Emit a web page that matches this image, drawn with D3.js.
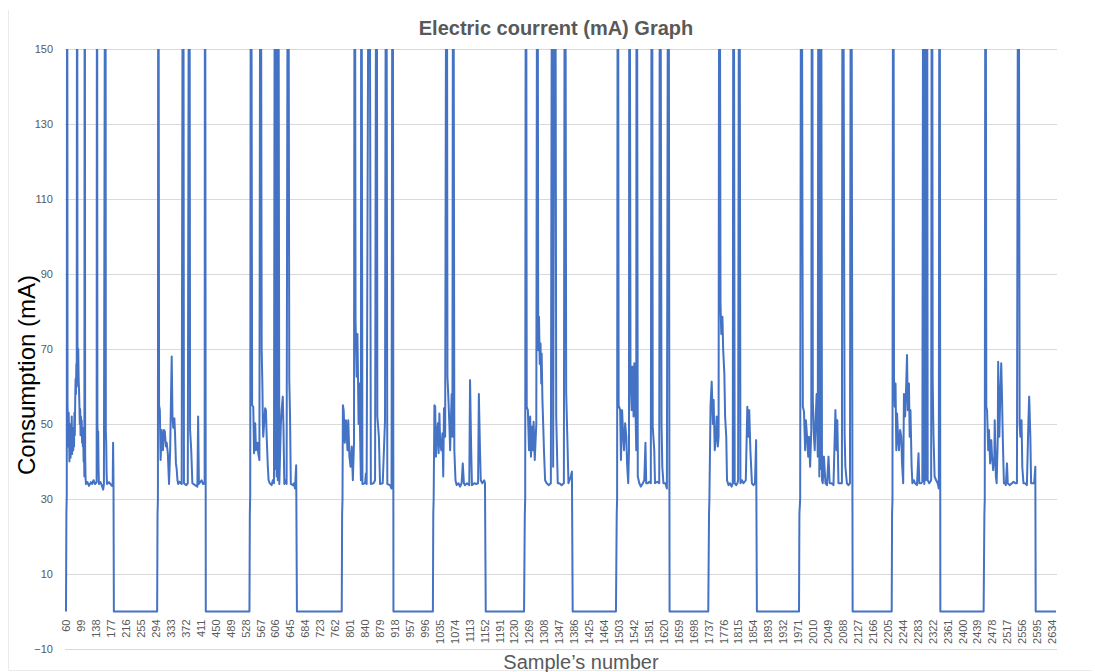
<!DOCTYPE html>
<html><head><meta charset="utf-8">
<script src="https://cdn.jsdelivr.net/npm/d3@7"></script>
<style>body{margin:0;background:#fff} svg{display:block}</style>
</head><body>
<svg id="chart" width="1095" height="672"></svg>
<script>
const chartTitle = "Electric courrent (mA) Graph";
const yAxisTitle = "Consumption (mA)";
const xAxisTitle = "Sample\u2019s number";
const yTicks = [-10, 10, 30, 50, 70, 90, 110, 130, 150];
const xTickLabels = [60,99,138,177,216,255,294,333,372,411,450,489,528,567,606,645,684,723,762,801,840,879,918,957,996,1035,1074,1113,1152,1191,1230,1269,1308,1347,1386,1425,1464,1503,1542,1581,1620,1659,1698,1737,1776,1815,1854,1893,1932,1971,2010,2049,2088,2127,2166,2205,2244,2283,2322,2361,2400,2439,2478,2517,2556,2595,2634];
const lastSample = 2645;
// [sample number, current mA]; values above 150 run off the top of the plot
const cycle1 = [[60,0],[61,26],[62,31],[63,250],[64,55],[65,52],[66,44],[67,53],[68,47],[69,40],[70,50],[71,45],[72,41],[73,48],[74,43],[75,52],[76,42],[77,48],[78,45],[79,43],[80,49],[81,44],[82,53],[83,47],[84,56],[85,62],[86,58],[87,66],[88,60],[89,250],[90,70],[91,65],[92,70],[93,62],[94,59],[95,55],[96,50],[97,54],[98,47],[99,52],[100,48],[101,51],[102,45],[103,49],[104,44],[105,47],[106,40],[107,44],[108,36],[109,250],[110,42],[111,36],[112,34],[116,34.5],[120,33.5],[125,34.5],[128,34],[132,35],[136,34],[140,34.5],[141,250],[142,50],[143,46],[144,48],[145,38],[146,34],[150,34.5],[154,33.5],[157,32.5],[159,34],[163,250],[164,48],[165,45],[166,37],[167,34],[172,34.5],[176,34],[180,33.5],[182,34],[183,45],[184,35],[185,0]];
const cycle2 = [[298,0],[299,26],[300,30],[301,250],[303,55],[305,53.7],[307,40.4],[310,48.4],[313,43],[316,48.4],[318,48],[321,44],[323,45],[326,42],[329,34],[332,43],[334,56],[336,68],[338,52],[340,49],[343,51.5],[345,46.6],[347,39.5],[349,38],[351,35],[353,34],[356,34.6],[362,34],[366,250],[368,34.2],[374,33.7],[378,34.2],[382,250],[384,48.4],[387,43],[390,34.2],[397,33.7],[403,33.3],[405,52],[407,34],[414,35],[418,34],[422,34.2],[423,250],[425,0]];
const cycle3 = [[539,0],[540,26],[541,31],[543,250],[546,55],[549,54.6],[551,42.2],[554,50.2],[556,43],[560,45],[562,42.2],[565,40.4],[568,250],[571,69.7],[573,59],[574,50],[575,46.6],[580,54.2],[582,53.7],[584,46.6],[587,38.6],[589,35],[592,34.2],[597,33.7],[600,35],[603,34.2],[606,250],[607,38],[609,250],[610,36],[612,250],[613,35],[614,250],[617,34],[621,50],[623,53.7],[626,57.3],[628,48.4],[630,34],[633,35],[636,34],[640,250],[643,61.7],[645,52],[647,34],[652,33.7],[655,34.2],[658,32.8],[661,39],[663,0]];
const cycle4 = [[780,0],[781,26],[782,30],[783,55],[785,53.7],[788,45],[791,51],[795,43],[797,51],[800,41.3],[803,38.6],[806,44],[809,35],[812,45],[814,250],[816,77.7],[819,62.6],[821,74],[823,58],[824,50],[826,60.8],[828,46.6],[830,35],[831,250],[834,34],[841,34.2],[843,36.8],[845,34],[852,250],[856,34],[863,34.2],[867,35],[871,250],[873,52],[877,46.6],[880,34],[887,34.2],[893,51],[896,250],[899,34],[906,33.7],[910,32.8],[913,250],[915,0]];
const cycle5 = [[1018,0],[1019,26],[1020,30],[1022,55],[1024,54.6],[1026,41.3],[1028,46.6],[1031,50.2],[1033,42.2],[1035,52.8],[1037,45],[1040,43],[1043,47.5],[1045,36],[1047,54.2],[1050,46.6],[1054,250],[1056,62.6],[1058,58],[1061,50],[1063,43],[1067,58],[1069,46.6],[1071,250],[1074,43],[1077,35],[1080,33.7],[1085,34.2],[1089,33.3],[1093,34.2],[1096,39.5],[1099,34.2],[1102,33.7],[1107,34.2],[1113,33.7],[1115,61.7],[1118,43],[1120,33.7],[1126,34.2],[1131,34],[1136,34.2],[1138,58],[1141,43],[1143,35],[1147,34.2],[1152,35],[1154,34.2],[1156,0]];
const cycle6 = [[1256,0],[1258,26],[1259,30],[1261,250],[1263,54.6],[1266,53.7],[1269,43],[1272,52],[1274,41.3],[1277,49.3],[1279,43],[1281,50.6],[1284,40.4],[1288,50],[1291,250],[1293,69.7],[1295,78.6],[1297,66],[1299,71.5],[1301,60.8],[1302,68.8],[1304,56.4],[1306,50],[1308,43],[1311,35],[1315,34.2],[1321,33.7],[1326,34.2],[1330,250],[1332,38.6],[1337,250],[1340,52],[1344,34.2],[1348,34.2],[1354,33.7],[1360,34.2],[1363,250],[1366,58.6],[1369,46.6],[1372,34.2],[1378,36],[1381,37.3],[1383,0]];
const cycle7 = [[1496,0],[1498,26],[1499,30],[1501,250],[1503,55],[1507,53.7],[1509,40.4],[1512,53.7],[1515,46.6],[1517,43],[1520,50.2],[1523,46.6],[1525,39.5],[1528,34.2],[1530,43],[1531,250],[1534,61.7],[1537,53.7],[1539,65.3],[1542,52],[1544,66.2],[1547,53.7],[1549,43],[1550,250],[1553,36],[1557,34.2],[1561,33.3],[1566,34.2],[1570,35],[1573,45],[1575,34.2],[1579,34.2],[1583,34.6],[1587,34.2],[1590,250],[1592,49.3],[1596,43],[1598,34.2],[1604,34.6],[1609,34.2],[1611,250],[1615,50],[1617,38.6],[1620,34.2],[1625,34.2],[1629,32.8],[1633,250],[1636,0]];
const cycle8 = [[1737,0],[1739,26],[1740,30],[1743,55],[1746,61.3],[1749,50],[1751,56.4],[1754,43],[1757,46.6],[1759,52],[1762,44],[1764,46.6],[1766,250],[1769,82.2],[1771,74],[1774,78.6],[1776,69.7],[1779,63.5],[1781,52],[1784,46.6],[1786,35],[1790,33.7],[1794,34.2],[1798,33.3],[1801,34.2],[1803,250],[1806,34.2],[1810,33.7],[1813,34.2],[1815,35],[1818,250],[1821,34.2],[1825,35],[1829,34.2],[1835,35],[1839,54.6],[1842,46.6],[1844,53.7],[1847,43],[1851,34.2],[1855,33.7],[1859,34.2],[1862,45.7],[1864,0]];
const cycle9 = [[1974,0],[1975,26],[1977,30],[1980,250],[1984,54.6],[1987,53.3],[1990,43],[1992,51],[1995,46.6],[1998,41.3],[2000,46.6],[2003,38.6],[2006,48.4],[2008,250],[2010,56.4],[2013,46.6],[2015,43],[2018,52.8],[2020,58],[2023,41.3],[2025,250],[2027,36],[2028,250],[2030,38],[2031,250],[2034,35],[2036,34.2],[2039,41.3],[2043,34.2],[2047,33.7],[2051,41.3],[2054,34.2],[2059,34.2],[2064,33.7],[2069,53.7],[2072,43],[2074,51],[2077,34.2],[2083,34.2],[2086,34.2],[2088,250],[2093,47.5],[2095,38.6],[2099,34.2],[2103,33.7],[2107,34.2],[2110,250],[2114,0]];
const cycle10 = [[2216,0],[2217,26],[2218,30],[2220,250],[2222,62.2],[2224,54.6],[2226,60.8],[2228,43],[2230,52.8],[2233,45.7],[2235,43],[2238,48.4],[2241,46.6],[2243,39.5],[2246,34.2],[2248,58],[2251,52],[2254,60.8],[2256,68.4],[2258,53.7],[2261,60.8],[2263,46.6],[2265,53.7],[2268,38.6],[2270,34.2],[2274,35],[2277,34.2],[2282,33.7],[2286,42.2],[2288,34.2],[2293,34.2],[2296,34.6],[2299,250],[2301,34],[2303,250],[2305,35],[2308,250],[2310,35],[2314,34.2],[2319,35],[2321,250],[2323,61.7],[2325,47.5],[2328,36],[2332,35],[2336,34.2],[2339,32.8],[2341,250],[2343,0]];
const cycle11 = [[2456,0],[2458,26],[2459,30],[2461,250],[2463,54.6],[2465,53.7],[2468,43],[2470,48.4],[2473,39.5],[2476,45.7],[2478,41.3],[2481,37.7],[2484,41.3],[2485,51],[2488,36],[2490,34.2],[2493,46.6],[2494,66.6],[2497,46.6],[2499,55.5],[2502,66.2],[2504,57.3],[2506,46.6],[2509,34.2],[2512,34.2],[2514,33.7],[2517,39.5],[2519,34.2],[2524,33.7],[2530,34.2],[2534,34.6],[2539,34.2],[2543,34.2],[2547,250],[2550,50],[2552,46.6],[2555,51],[2557,38.6],[2560,34.2],[2564,34.2],[2569,33.7],[2573,51],[2575,57.3],[2578,46.6],[2580,34.2],[2585,34.2],[2588,34.2],[2591,38.6],[2592,0],[2645,0]];

const series = [].concat(cycle1, cycle2, cycle3, cycle4, cycle5, cycle6, cycle7, cycle8, cycle9, cycle10, cycle11);

const svg = d3.select("#chart");
const plotLeft = 65, plotRight = 1057, plotTop = 49, plotBottom = 649;
const x = d3.scaleLinear().domain([60, lastSample]).range([66, 1056]);
const y = d3.scaleLinear().domain([-10, 150]).range([plotBottom, plotTop]);

// faint chart frame (left and bottom edges)
svg.append("path").attr("d", "M8.5,10 V670.5 H1092")
  .attr("fill", "none").attr("stroke", "#ebebeb");

// gridlines
svg.append("g").selectAll("line").data(yTicks).join("line")
  .attr("x1", plotLeft).attr("x2", plotRight)
  .attr("y1", d => Math.round(y(d)) + 0.5).attr("y2", d => Math.round(y(d)) + 0.5)
  .attr("stroke", "#d9d9d9").attr("stroke-width", 1);

// y tick labels
const yAxis = d3.axisLeft(y).tickValues(yTicks).tickSize(0).tickPadding(0);
const gy = svg.append("g").attr("transform", "translate(53,0)").call(yAxis);
gy.select(".domain").remove();
gy.selectAll("text").attr("fill", "#595959").style("font-family", "Liberation Sans, Arial, sans-serif").style("font-size", "11px");

// x tick labels (category axis sits at 0)
const xAxis = d3.axisBottom(x).tickValues(xTickLabels).tickSize(0).tickFormat(d3.format("d"));
const gx = svg.append("g").attr("transform", `translate(0,${y(0)})`).call(xAxis);
gx.select(".domain").remove();
gx.selectAll("text")
  .attr("transform", "rotate(-90)")
  .attr("x", -8).attr("y", 0).attr("dy", "0.35em")
  .attr("text-anchor", "end")
  .attr("fill", "#595959")
  .style("font-family", "Liberation Sans, Arial, sans-serif").style("font-size", "11px");

// clip
svg.append("clipPath").attr("id", "plotclip").append("rect")
  .attr("x", plotLeft).attr("y", plotTop).attr("width", plotRight - plotLeft).attr("height", plotBottom - plotTop);

const line = d3.line().x(d => x(d[0])).y(d => y(d[1]));
svg.append("path").datum(series)
  .attr("clip-path", "url(#plotclip)")
  .attr("fill", "none").attr("stroke", "#4472c4").attr("stroke-width", 2)
  .attr("stroke-linejoin", "round")
  .attr("d", line);

// titles
svg.append("text").attr("x", 556).attr("y", 35).attr("text-anchor", "middle")
  .attr("fill", "#595959").style("font-family", "Liberation Sans, Arial, sans-serif")
  .style("font-size", "20px").style("font-weight", "bold").text(chartTitle);
svg.append("text").attr("transform", "translate(35,375) rotate(-90)").attr("text-anchor", "middle")
  .attr("fill", "#000").style("font-family", "Liberation Sans, Arial, sans-serif")
  .style("font-size", "24px").text(yAxisTitle);
svg.append("text").attr("x", 581).attr("y", 669).attr("text-anchor", "middle")
  .attr("fill", "#595959").style("font-family", "Liberation Sans, Arial, sans-serif")
  .style("font-size", "20px").text(xAxisTitle);
</script>
</body></html>
